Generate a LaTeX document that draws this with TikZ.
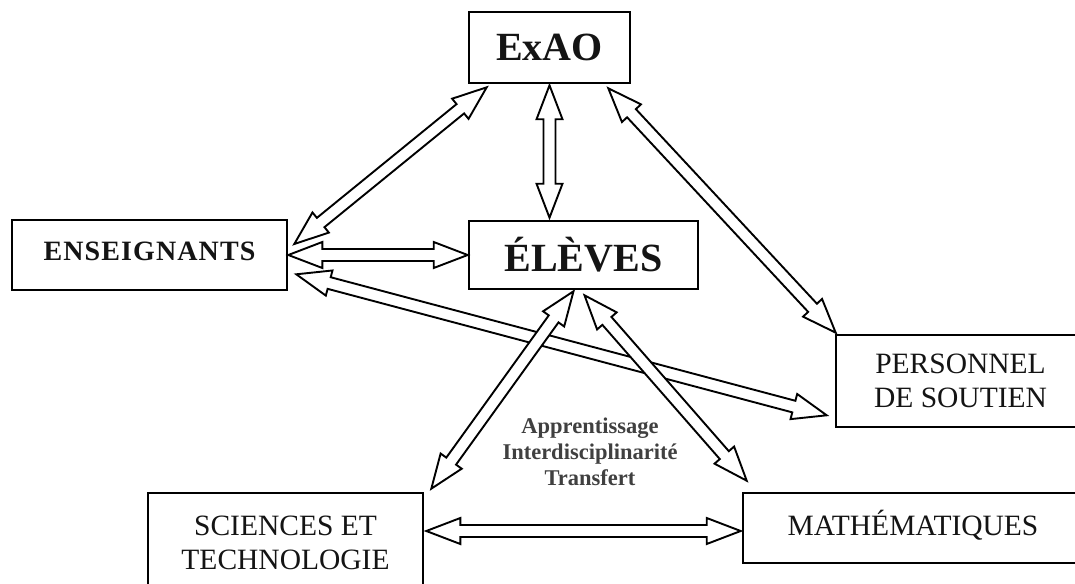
\documentclass[tikz,border=0pt]{standalone}
\usepackage{fontspec}
\setmainfont{Liberation Serif}
\newfontfamily\spacedbf{Liberation Serif}[LetterSpace=4.0]
\usetikzlibrary{calc}
\tikzset{
  box/.style={draw=black, line width=2.6pt, fill=white, inner sep=0pt, align=center, text=black!92},
  arr/.style={draw=black, line width=1.9pt, fill=white, line join=miter},
  big/.style={font=\fontsize{40}{40}\selectfont\bfseries},
  mid/.style={font=\fontsize{29.5}{34}\selectfont},
}
\newcommand\darrow[2]{%
  \coordinate (pA) at ($(#1)!34pt!(#2)$);
  \coordinate (pB) at ($(#2)!34pt!(#1)$);
  \draw[arr] (#1) -- ($(pA)!13pt!90:(#2)$) -- ($(pA)!6pt!90:(#2)$)
    -- ($(pB)!6pt!-90:(#1)$) -- ($(pB)!13pt!-90:(#1)$) -- (#2)
    -- ($(pB)!13pt!90:(#1)$) -- ($(pB)!6pt!90:(#1)$)
    -- ($(pA)!6pt!-90:(#2)$) -- ($(pA)!13pt!-90:(#2)$) -- cycle;
}
\begin{document}
\begin{tikzpicture}[x=1pt,y=-1pt]
\useasboundingbox[fill=white] (0,0) rectangle (1075,583);
\clip (0,0) rectangle (1075,583);
% boxes
\node[box, big, minimum width=161pt, minimum height=71pt] (exao) at (549.5,47.5) {ExAO};
\node[box, font=\fontsize{28}{28}\selectfont\spacedbf\bfseries, text depth=8pt, minimum width=275pt, minimum height=70pt] (ens) at (149.5,255) {ENSEIGNANTS};
\node[box, big, minimum width=229pt, minimum height=68pt] (ele) at (583.5,255) {ÉLÈVES};
\node[box, mid, minimum width=249pt, minimum height=92pt] (pers) at (960.5,381) {PERSONNEL\\DE SOUTIEN};
\node[box, mid, minimum width=275pt, minimum height=99pt] (sci) at (285.5,542.5) {SCIENCES ET\\TECHNOLOGIE};
\node[box, mid, text height=20pt, text depth=6pt, minimum width=340pt, minimum height=70pt] (math) at (913,528) {MATHÉMATIQUES};
\node[font=\fontsize{22.5}{26}\selectfont\bfseries, text=black!75, align=center] (lbl) at (590,452)
  {Apprentissage\\Interdisciplinarité\\Transfert};
% arrow end points
\coordinate (a1) at ($(exao.south west)+(19,3)$);
\coordinate (a2) at ($(ens.east)+(6,-11)$);
\coordinate (b1) at ($(exao.south)+(0,1)$);
\coordinate (b2) at ($(exao.south |- ele.north)+(0,-2)$);
\coordinate (c1) at ($(exao.south east)+(-23,4)$);
\coordinate (c2) at ($(pers.north west)+(1,-1)$);
\coordinate (d1) at (ens.east);
\coordinate (d2) at (ele.west);
\coordinate (e1) at ($(ens.south east)+(8,-17)$);
\coordinate (e2) at ($(pers.south west)+(-8,-13)$);
\coordinate (f1) at ($(ele.south)+(-10,1)$);
\coordinate (f2) at ($(sci.north east)+(7,-3)$);
\coordinate (g1) at ($(ele.south)+(1,5)$);
\coordinate (g2) at ($(math.north west)+(5,-11)$);
\coordinate (h1) at ($(sci.north east |- math.west)+(2,3)$);
\coordinate (h2) at ($(math.west)+(-1,3)$);
% arrows
\darrow{a1}{a2}
\darrow{b1}{b2}
\darrow{c1}{c2}
\darrow{d1}{d2}
\darrow{e1}{e2}
\darrow{f1}{f2}
\darrow{g1}{g2}
\darrow{h1}{h2}
\end{tikzpicture}
\end{document}
